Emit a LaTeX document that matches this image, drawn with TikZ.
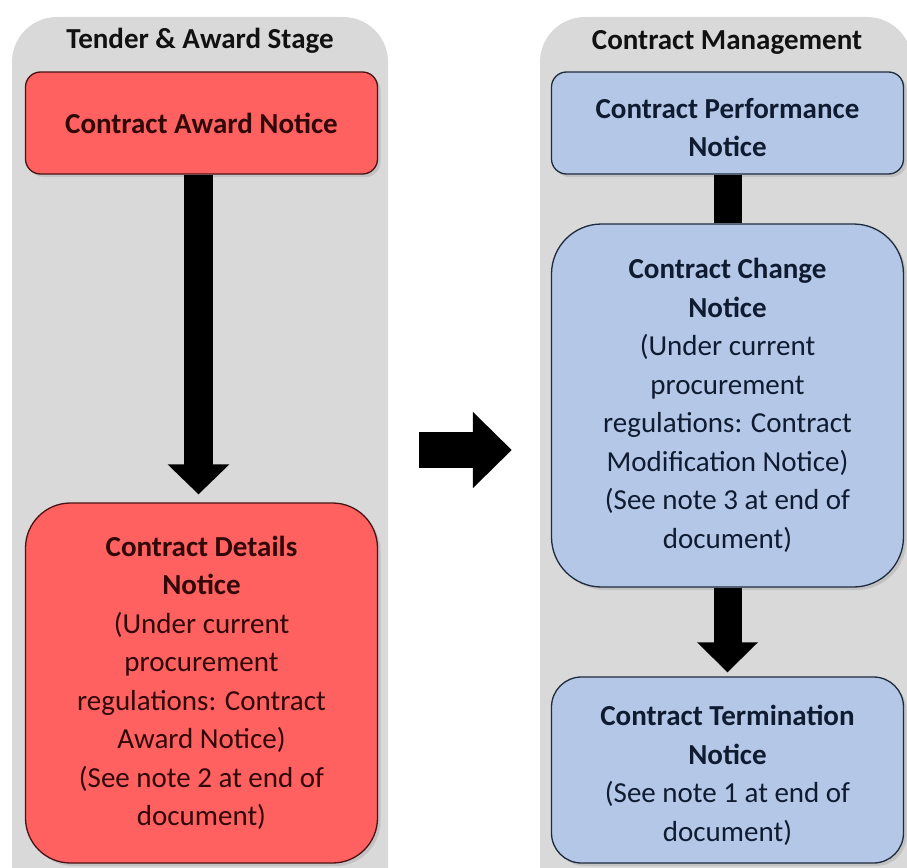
\documentclass[tikz,border=0pt]{standalone}
\usepackage{fontspec}
\setmainfont{Carlito}
\usetikzlibrary{arrows.meta,shadows}
\definecolor{panelgray}{HTML}{D9D9D9}
\definecolor{redfill}{HTML}{FF6161}
\definecolor{reddraw}{HTML}{4A1212}
\definecolor{redtext}{HTML}{300808}
\definecolor{bluefill}{HTML}{B4C7E7}
\definecolor{bluedraw}{HTML}{1E2B3E}
\definecolor{bluetext}{HTML}{0F1B30}
\definecolor{titletext}{HTML}{111111}
\begin{document}
\begin{tikzpicture}[x=1pt,y=-1pt,
  panel/.style={fill=panelgray, rounded corners=45pt, inner sep=0pt, minimum height=900pt},
  txt/.style={font=\fontsize{29}{38.5}\selectfont, align=center, inner sep=0pt},
  boxbase/.style={txt, line width=1.3pt, minimum width=352pt,
    drop shadow={shadow xshift=3pt, shadow yshift=-3pt, opacity=0.25}},
  redbox/.style={boxbase, draw=reddraw, fill=redfill, text=redtext},
  bluebox/.style={boxbase, draw=bluedraw, fill=bluefill, text=bluetext},
  titletxt/.style={font=\fontsize{29}{32}\selectfont\bfseries, text=titletext, inner sep=0pt},
  bigarrow/.style={draw=black, line width=29pt, -{Triangle[width=60pt,length=30pt]}}
]
\useasboundingbox (0,0) rectangle (907,867);
\clip (0,0) rectangle (907,867);
\fill[white] (0,0) rectangle (907,867);

% panels
\node[panel, minimum width=376pt] (lp) at (200,467) {};
\node[panel, minimum width=372pt] (rp) at (726,467) {};

% titles
\node[titletxt] (t1) at (200,41) {Tender \& Award Stage};
\node[titletxt] (t2) at (727,42) {Contract Management};

% left boxes
\node[redbox, minimum height=102pt, rounded corners=15pt] (can) at (201.5,123)
  {\bfseries Contract Award Notice};
\node[redbox, minimum height=360pt, rounded corners=45pt] (cdn) at (201.5,683)
  {\bfseries Contract Details\\ \bfseries Notice\\ (Under current\\ procurement\\ regulations: Contract\\ Award Notice)\\ (See note 2 at end of\\ document)};

% right boxes
\node[bluebox, minimum height=102pt, rounded corners=15pt] (cpn) at (727.5,123)
  {\rule{0pt}{29pt}\bfseries Contract Performance\\ \bfseries Notice};
\node[bluebox, minimum height=363pt, rounded corners=50pt] (ccn) at (727.5,405.5)
  {\bfseries Contract Change\\ \bfseries Notice\\ (Under current\\ procurement\\ regulations: Contract\\ Modification Notice)\\ (See note 3 at end of\\ document)};
\node[bluebox, minimum height=186pt, rounded corners=30pt] (ctn) at (727.5,770)
  {\rule{0pt}{31pt}\bfseries Contract Termination\\ \bfseries Notice\\ (See note 1 at end of\\ document)};

% connectors
\draw[bigarrow, shorten >=8pt] ([xshift=-3pt]can.south) -- ([xshift=-3pt]cdn.north);
\draw[line width=28pt] (cpn.south) -- (ccn.north);
\draw[bigarrow, line width=28pt, -{Triangle[width=59pt,length=30pt]}, shorten >=4pt] (ccn.south) -- (ctn.north);
\draw[bigarrow, line width=36pt, -{Triangle[width=74pt,length=39pt]}, shorten <=31pt, shorten >=28pt]
  ([yshift=17pt]lp.east) -- ([yshift=17pt]rp.west);
\end{tikzpicture}
\end{document}
